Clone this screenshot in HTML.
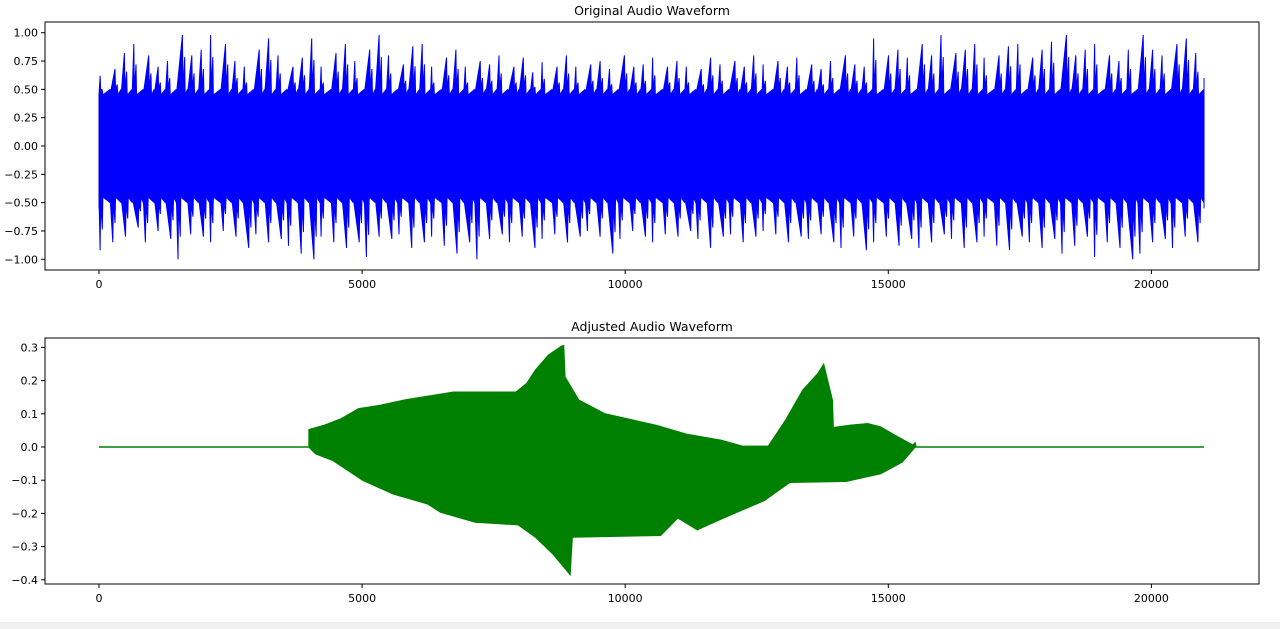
<!DOCTYPE html>
<html><head><meta charset="utf-8"><style>
body{margin:0;background:#fff;}
svg{display:block;font-family:"DejaVu Sans","Liberation Sans",sans-serif;}
</style></head><body>
<svg id="c" width="1280" height="629" viewBox="0 0 1280 629">
<rect x="0" y="622" width="1280" height="7" fill="#f0f0f0"/>
</svg>
<script>
const topUpper=[0.62,0.68,0.82,0.9,0.8,0.7,0.75,0.98,0.8,0.85,0.98,0.9,0.75,0.7,0.85,0.95,0.8,0.7,0.78,0.95,0.7,0.82,0.9,0.75,0.85,0.98,0.8,0.72,0.88,0.9,0.7,0.78,0.85,0.7,0.75,0.72,0.8,0.7,0.78,0.65,0.74,0.7,0.8,0.7,0.72,0.75,0.68,0.8,0.7,0.72,0.78,0.7,0.75,0.7,0.68,0.78,0.72,0.75,0.7,0.8,0.72,0.75,0.7,0.78,0.72,0.68,0.75,0.8,0.72,0.7,0.95,0.8,0.85,0.78,0.9,0.8,0.98,0.82,0.85,0.9,0.78,0.8,0.88,0.9,0.78,0.85,0.92,0.98,0.8,0.85,0.9,0.8,0.75,0.85,0.98,0.85,0.8,0.9,0.95,0.82];
const topLower=[-0.92,-0.85,-0.8,-0.72,-0.85,-0.75,-0.82,-1.0,-0.78,-0.8,-0.85,-0.75,-0.8,-0.9,-0.78,-0.85,-0.82,-0.88,-0.95,-1.0,-0.8,-0.85,-0.9,-0.85,-0.98,-0.8,-0.82,-0.78,-0.9,-0.85,-0.8,-0.88,-0.95,-0.85,-1.0,-0.82,-0.78,-0.85,-0.8,-0.9,-0.82,-0.78,-0.85,-0.8,-0.75,-0.8,-0.95,-0.82,-0.75,-0.8,-0.85,-0.78,-0.8,-0.75,-0.82,-0.9,-0.8,-0.78,-0.85,-0.8,-0.75,-0.78,-0.85,-0.8,-0.82,-0.78,-0.85,-0.9,-0.8,-0.92,-0.85,-0.8,-0.88,-0.82,-0.9,-0.85,-0.78,-0.82,-0.9,-0.85,-0.8,-0.88,-0.92,-0.8,-0.85,-0.9,-0.82,-0.95,-0.88,-0.8,-0.98,-0.85,-0.9,-1.0,-0.95,-0.85,-0.82,-0.9,-0.8,-0.85];
const totalSamples=21000;
const botUpperS=[0,3992,3993,4279,4607,4934,5344,5836,6738,7926,8131,8295,8541,8787,8828,8853,9115,9607,9935,10590,11164,11820,12230,12722,13049,13377,13664,13771,13935,13951,14279,14607,14853,15180,15467,15508,15525,21000];
const botUpperV=[0,0,0.052,0.065,0.085,0.115,0.125,0.142,0.165,0.165,0.191,0.231,0.276,0.303,0.305,0.211,0.141,0.100,0.088,0.065,0.038,0.020,0.002,0.002,0.080,0.171,0.221,0.248,0.141,0.058,0.065,0.070,0.060,0.030,0.005,0.012,0,0];
const botLowerS=[3992,4115,4443,5016,5590,6246,6492,7148,7967,8295,8623,8951,8992,10672,11000,11369,11902,12640,13131,14197,14853,15263,15508];
const botLowerV=[0,-0.020,-0.040,-0.100,-0.141,-0.171,-0.196,-0.226,-0.234,-0.271,-0.321,-0.383,-0.271,-0.266,-0.213,-0.249,-0.211,-0.161,-0.106,-0.103,-0.080,-0.045,0];
const xTicks=[0,5000,10000,15000,20000];
const topYTicks=[1.00,0.75,0.50,0.25,0.00,-0.25,-0.50,-0.75,-1.00];
const botYTicks=[0.3,0.2,0.1,0.0,-0.1,-0.2,-0.3,-0.4];

const NS="http://www.w3.org/2000/svg";
const svg=document.getElementById('c');
function mk(t,a,p){const e=document.createElementNS(NS,t);for(const k in a)e.setAttribute(k,a[k]);(p||svg).appendChild(e);return e;}
const X=s=>99+s*0.05262;
const Yt=v=>146+v*(-113.3);
const Yb=v=>447-v*332;

function axes(top,bot,Y,ticks,dec,title,name){
  const g=mk('g',{});
  
  
  const f=mk('rect',{x:45,y:top,width:1214,height:bot-top,fill:'none',stroke:'#000','stroke-width':1},g);
  
  
  xTicks.forEach(t=>{
    mk('line',{x1:X(t),x2:X(t),y1:bot,y2:bot+4,stroke:'#000'},g);
    const tx=mk('text',{x:X(t),y:bot+18,'font-size':11,'text-anchor':'middle'},g);
    tx.textContent=t;
    
    
  });
  ticks.forEach(t=>{
    mk('line',{x1:41,x2:45,y1:Y(t),y2:Y(t),stroke:'#000'},g);
    const tx=mk('text',{x:38,y:Y(t)+4,'font-size':11,'text-anchor':'end'},g);
    tx.textContent=t.toFixed(dec).replace('-','\u2212');
    
    
  });
  const tt=mk('text',{x:652,y:top-7,'font-size':12.5,'text-anchor':'middle'},g);
  tt.textContent=title;
  
  
}
axes(22,270,Yt,topYTicks,2,'Original Audio Waveform','top-axes');
axes(338,584,Yb,botYTicks,1,'Adjusted Audio Waveform','bottom-axes');

// top waveform
const n=topUpper.length, bw=totalSamples/n;
let up=[],lo=[];
for(let i=0;i<n;i++){
  const s0=i*bw, o=((i*7)%10)/10*0.5, p=((i*3)%10)/10*0.5;
  up.push([X(s0),Yt(0.45)],[X(s0+bw*(0.1+o)),Yt(topUpper[i])],[X(s0+bw*(0.15+o)),Yt(0.5)],[X(s0+bw*(0.3+o)),Yt(topUpper[i]*0.8)],[X(s0+bw*(0.35+o)),Yt(0.45)],[X(s0+bw),Yt(0.5)]);
  lo.push([X(s0),Yt(-0.45)],[X(s0+bw*(0.1+p)),Yt(topLower[i])],[X(s0+bw*(0.15+p)),Yt(-0.5)],[X(s0+bw*(0.3+p)),Yt(topLower[i]*0.8)],[X(s0+bw*(0.35+p)),Yt(-0.45)],[X(s0+bw),Yt(-0.5)]);
}
up.push([X(totalSamples),Yt(0.6)]);
const pts=up.concat([[X(totalSamples),Yt(-0.55)]]).concat(lo.reverse()).concat([[X(0),Yt(-0.55)]]);
const wave=mk('polygon',{points:pts.map(p=>p.join(',')).join(' '),fill:'#0000ff',stroke:'#0000ff','stroke-width':1,'stroke-linejoin':'bevel'});



// bottom waveform
const bp=[];
for(let i=0;i<botUpperS.length;i++)bp.push([X(botUpperS[i]),Yb(botUpperV[i])]);
for(let i=botLowerS.length-1;i>=0;i--)bp.push([X(botLowerS[i]),Yb(botLowerV[i])]);
const bw2=mk('polygon',{points:bp.map(p=>p.join(',')).join(' '),fill:'#008000',stroke:'#008000','stroke-width':1.5});


</script>
</body></html>
